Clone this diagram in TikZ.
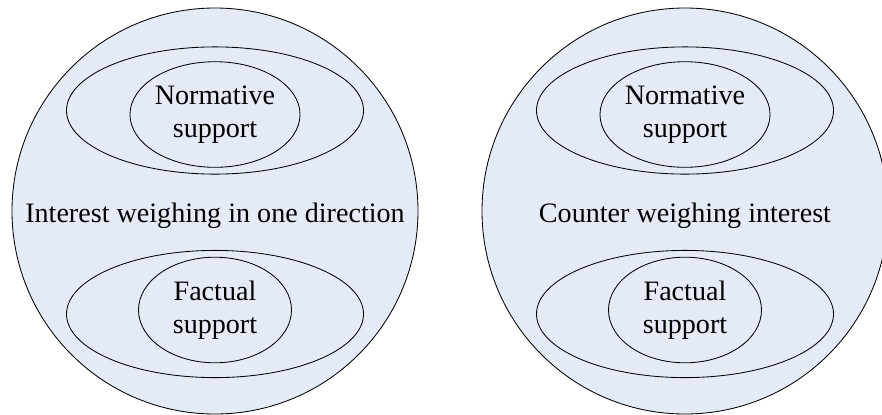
\documentclass[tikz,border=0pt]{standalone}
\usepackage{fontspec}
\setmainfont{Liberation Serif}
\usetikzlibrary{shapes.geometric}
\definecolor{paleblue}{RGB}{229,235,246}
\tikzset{
  whole/.style={circle,draw,fill=paleblue,minimum size=10.15cm,inner sep=0pt},
  band/.style={ellipse,draw,minimum width=7.425cm,minimum height=3.18cm,inner sep=0pt},
  core/.style={ellipse,draw,minimum width=3.825cm,minimum height=2.64cm,inner sep=0pt,
    align=center,font=\fontsize{20}{23.5}\selectfont},
  label/.style={anchor=base,font=\fontsize{20}{23.5}\selectfont},
}
\begin{document}
\begin{tikzpicture}[line width=0.6pt]

\useasboundingbox (0,0) rectangle (22.05,-10.35);

% left side
\node[whole] (l) at (5.375,-5.275) {};
\node[band] (lnorm) at (5.375,-2.7625) {};
\node[band] (lfact) at (5.375,-7.85) {};
\node[core] (lnorm2) at (5.375,-2.8625) {Normative\\support};
\node[core] (lfact2) at (5.375,-7.75) {Factual\\support};
\node[label] (lmid) at (5.375,-5.55) {Interest weighing in one direction};

% right side
\node[whole] (r) at (17.125,-5.275) {};
\node[band] (rnorm) at (17.125,-2.7625) {};
\node[band] (rfact) at (17.125,-7.85) {};
\node[core] (rnorm2) at (17.125,-2.8625) {Normative\\support};
\node[core] (rfact2) at (17.125,-7.75) {Factual\\support};
\node[label] (rmid) at (17.125,-5.55) {Counter weighing interest};

\end{tikzpicture}
\end{document}
